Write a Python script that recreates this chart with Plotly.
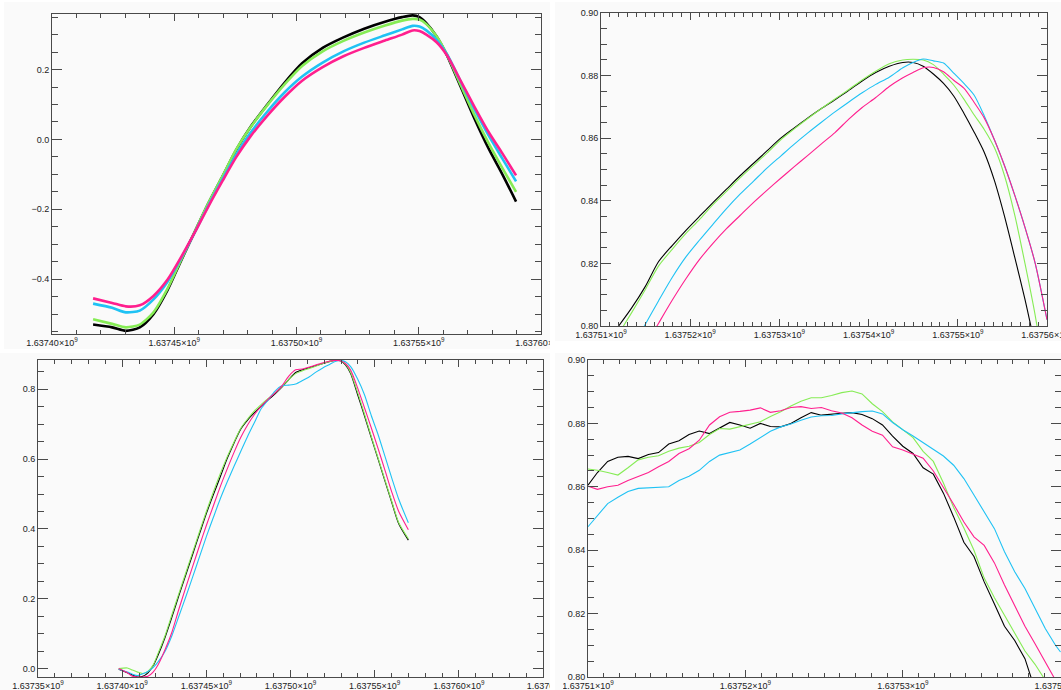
import plotly.graph_objects as go

# ---------------------------------------------------------------- data
# Panel 1: full run (time in s)
P1_T = [1637416800, 1637424600, 1637430200, 1637435900, 1637441500, 1637447200,
        1637452800, 1637458500, 1637464100, 1637469800, 1637475400, 1637481100,
        1637488100, 1637495200, 1637502300, 1637510700, 1637519200, 1637527700,
        1637536200, 1637543200, 1637547500, 1637550300, 1637553100, 1637557300,
        1637561600, 1637567200, 1637572900, 1637578500, 1637584200, 1637589800]
P1_BLACK = [-0.530, -0.538, -0.548, -0.538, -0.500, -0.432, -0.347, -0.263, -0.181, -0.105,
            -0.029, 0.035, 0.100, 0.163, 0.218, 0.262, 0.292, 0.317, 0.337, 0.350,
            0.355, 0.350, 0.333, 0.295, 0.240, 0.150, 0.058, -0.025, -0.100, -0.178]
P1_GREEN = [-0.515, -0.528, -0.538, -0.530, -0.495, -0.428, -0.345, -0.262, -0.180, -0.104,
            -0.028, 0.034, 0.098, 0.158, 0.210, 0.252, 0.282, 0.306, 0.326, 0.340,
            0.345, 0.343, 0.330, 0.295, 0.242, 0.155, 0.068, -0.010, -0.082, -0.150]
P1_CYAN = [-0.470, -0.482, -0.495, -0.490, -0.458, -0.408, -0.340, -0.265, -0.187, -0.113,
           -0.043, 0.018, 0.080, 0.135, 0.180, 0.220, 0.252, 0.277, 0.298, 0.315,
           0.325, 0.323, 0.312, 0.285, 0.243, 0.165, 0.085, 0.012, -0.055, -0.120]
P1_MAGENTA = [-0.455, -0.468, -0.478, -0.475, -0.448, -0.402, -0.337, -0.265, -0.190, -0.118,
              -0.050, 0.008, 0.068, 0.122, 0.168, 0.207, 0.238, 0.262, 0.283, 0.300,
              0.312, 0.310, 0.300, 0.278, 0.240, 0.167, 0.092, 0.022, -0.040, -0.103]

# Panel 2: peak region
P2_T = [1637511980, 1637513420, 1637514940, 1637516460, 1637517980, 1637519500,
        1637521030, 1637522550, 1637524070, 1637525590, 1637527110, 1637528630,
        1637530150, 1637531670, 1637533190, 1637534710, 1637536230, 1637537750,
        1637539280, 1637540800, 1637542320, 1637543840, 1637544980, 1637546120,
        1637547260, 1637548400, 1637549540, 1637550680, 1637551820, 1637552960,
        1637554100, 1637555240, 1637556380, 1637557530, 1637558670, 1637560000]
P2_BLACK = [0.8000, 0.8057, 0.8125, 0.8206, 0.8257, 0.8305, 0.8350, 0.8394, 0.8437, 0.8480,
            0.8520, 0.8560, 0.8600, 0.8633, 0.8665, 0.8695, 0.8723, 0.8752, 0.8783, 0.8810,
            0.8830, 0.8842, 0.8842, 0.8830, 0.8805, 0.8775, 0.8735, 0.8680, 0.8620, 0.8555,
            0.8465, 0.8350, 0.8220, 0.8085, 0.7940, 0.7800]
P2_GREEN = [0.7975, 0.8042, 0.8115, 0.8192, 0.8245, 0.8295, 0.8340, 0.8388, 0.8430, 0.8473,
            0.8513, 0.8553, 0.8595, 0.8630, 0.8663, 0.8695, 0.8725, 0.8755, 0.8786, 0.8814,
            0.8838, 0.8850, 0.8852, 0.8850, 0.8835, 0.8805, 0.8770, 0.8725, 0.8675, 0.8628,
            0.8570, 0.8480, 0.8355, 0.8200, 0.8035, 0.7800]
P2_CYAN = [0.7860, 0.7925, 0.8004, 0.8081, 0.8155, 0.8220, 0.8274, 0.8325, 0.8375, 0.8421,
           0.8463, 0.8505, 0.8543, 0.8581, 0.8617, 0.8651, 0.8684, 0.8715, 0.8745, 0.8772,
           0.8795, 0.8825, 0.8842, 0.8853, 0.8847, 0.8840, 0.8808, 0.8775, 0.8738, 0.8672,
           0.8595, 0.8512, 0.8418, 0.8315, 0.8201, 0.8020]
P2_MAGENTA = [0.7800, 0.7870, 0.7935, 0.8009, 0.8082, 0.8150, 0.8212, 0.8264, 0.8311, 0.8353,
              0.8395, 0.8434, 0.8472, 0.8509, 0.8545, 0.8582, 0.8618, 0.8660, 0.8698, 0.8730,
              0.8765, 0.8793, 0.8810, 0.8825, 0.8826, 0.8812, 0.8785, 0.8760, 0.8715, 0.8665,
              0.8595, 0.8512, 0.8418, 0.8315, 0.8201, 0.8020]

# Panel 3: normalised run
P3_T = [1637397960, 1637403060, 1637406120, 1637409180, 1637412250, 1637415310,
        1637418370, 1637421430, 1637425510, 1637429590, 1637433680, 1637437760,
        1637441840, 1637445920, 1637450000, 1637454090, 1637458170, 1637462250,
        1637466330, 1637470410, 1637474500, 1637478580, 1637482660, 1637486740,
        1637490820, 1637494910, 1637498990, 1637503070, 1637507150, 1637511230,
        1637515320, 1637519400, 1637523480, 1637526540, 1637529600, 1637532670,
        1637535730, 1637539810, 1637543890, 1637547970, 1637552050, 1637556130,
        1637560220, 1637564300, 1637570010]
P3_BLACK = [-0.002, -0.012, -0.018, -0.024, -0.022, -0.012, 0.008, 0.040, 0.090, 0.148,
            0.209, 0.268, 0.327, 0.386, 0.444, 0.497, 0.548, 0.600, 0.645, 0.686,
            0.712, 0.733, 0.752, 0.770, 0.787, 0.806, 0.828, 0.848, 0.856, 0.862,
            0.868, 0.874, 0.880, 0.883, 0.882, 0.870, 0.845, 0.786, 0.725, 0.662,
            0.600, 0.537, 0.475, 0.415, 0.368]
P3_GREEN = [0.000, 0.002, -0.004, -0.010, -0.014, -0.008, 0.010, 0.045, 0.095, 0.155,
            0.215, 0.274, 0.333, 0.392, 0.450, 0.505, 0.557, 0.605, 0.648, 0.688,
            0.715, 0.738, 0.757, 0.774, 0.790, 0.808, 0.828, 0.845, 0.853, 0.860,
            0.867, 0.874, 0.880, 0.883, 0.882, 0.872, 0.848, 0.792, 0.730, 0.665,
            0.603, 0.540, 0.478, 0.418, 0.372]
P3_CYAN = [-0.002, -0.010, -0.016, -0.020, -0.015, -0.008, 0.003, 0.020, 0.050, 0.095,
           0.150, 0.205, 0.262, 0.320, 0.378, 0.432, 0.485, 0.533, 0.578, 0.622,
           0.665, 0.705, 0.745, 0.770, 0.795, 0.810, 0.812, 0.815, 0.825, 0.836,
           0.850, 0.862, 0.872, 0.880, 0.883, 0.879, 0.865, 0.830, 0.785, 0.725,
           0.670, 0.608, 0.545, 0.485, 0.418]
P3_MAGENTA = [0.000, -0.012, -0.022, -0.024, -0.024, -0.022, -0.010, 0.012, 0.055, 0.105,
              0.170, 0.232, 0.292, 0.352, 0.410, 0.465, 0.520, 0.570, 0.618, 0.662,
              0.698, 0.728, 0.752, 0.772, 0.790, 0.810, 0.838, 0.856, 0.858, 0.864,
              0.870, 0.876, 0.881, 0.883, 0.882, 0.874, 0.855, 0.805, 0.748, 0.690,
              0.630, 0.568, 0.505, 0.450, 0.398]

# Panel 4: detail of the normalised peak
P4_T = [1637510000, 1637510600, 1637511250, 1637511900, 1637512540, 1637513190,
        1637513840, 1637514480, 1637515130, 1637515780, 1637516420, 1637517070,
        1637517720, 1637518360, 1637519010, 1637519650, 1637520300, 1637520950,
        1637521590, 1637522240, 1637522890, 1637523530, 1637524180, 1637524830,
        1637525470, 1637526120, 1637526770, 1637527410, 1637528060, 1637528710,
        1637529350, 1637530000, 1637530650, 1637531290, 1637531940, 1637532580,
        1637533230, 1637533880, 1637534520, 1637535170, 1637535820, 1637536460,
        1637537110, 1637537760, 1637538400, 1637539050, 1637539700, 1637540020]
P4_BLACK = [0.8605, 0.8645, 0.8680, 0.8693, 0.8696, 0.8689, 0.8702, 0.8708, 0.8735, 0.8745,
            0.8765, 0.8776, 0.8768, 0.8785, 0.8803, 0.8795, 0.8785, 0.8800, 0.8790, 0.8789,
            0.8800, 0.8818, 0.8834, 0.8826, 0.8830, 0.8832, 0.8834, 0.8828, 0.8815, 0.8795,
            0.8760, 0.8728, 0.8705, 0.8660, 0.8640, 0.8580, 0.8505, 0.8425, 0.8380, 0.8300,
            0.8230, 0.8160, 0.8115, 0.8058, 0.7960]
P4_GREEN = [0.8656, 0.8652, 0.8645, 0.8637, 0.8660, 0.8685, 0.8693, 0.8698, 0.8712, 0.8722,
            0.8728, 0.8740, 0.8765, 0.8784, 0.8782, 0.8790, 0.8797, 0.8805, 0.8822, 0.8837,
            0.8855, 0.8870, 0.8881, 0.8881, 0.8888, 0.8897, 0.8902, 0.8893, 0.8862, 0.8837,
            0.8805, 0.8780, 0.8755, 0.8712, 0.8680, 0.8612, 0.8535, 0.8470, 0.8400, 0.8312,
            0.8250, 0.8195, 0.8140, 0.8082, 0.8040, 0.7990]
P4_CYAN = [0.8474, 0.8510, 0.8547, 0.8567, 0.8585, 0.8595, 0.8597, 0.8597, 0.8600, 0.8620,
           0.8633, 0.8652, 0.8680, 0.8700, 0.8708, 0.8716, 0.8735, 0.8755, 0.8775, 0.8789,
           0.8798, 0.8810, 0.8820, 0.8824, 0.8825, 0.8830, 0.8834, 0.8837, 0.8839, 0.8830,
           0.8803, 0.8780, 0.8760, 0.8740, 0.8718, 0.8697, 0.8668, 0.8626, 0.8574, 0.8521,
           0.8468, 0.8395, 0.8332, 0.8279, 0.8216, 0.8153, 0.8100, 0.8079]
P4_MAGENTA = [0.8602, 0.8592, 0.8600, 0.8605, 0.8620, 0.8632, 0.8645, 0.8663, 0.8680, 0.8705,
              0.8720, 0.8747, 0.8795, 0.8821, 0.8835, 0.8838, 0.8842, 0.8849, 0.8835, 0.8840,
              0.8850, 0.8853, 0.8847, 0.8850, 0.8840, 0.8833, 0.8818, 0.8795, 0.8775, 0.8763,
              0.8726, 0.8716, 0.8704, 0.8690, 0.8650, 0.8600, 0.8545, 0.8489, 0.8442, 0.8415,
              0.8360, 0.8290, 0.8225, 0.8160, 0.8105, 0.8050, 0.7990]

# tick labels (mantissas of the ×10^9 time labels)
SUP9 = "\u00d710<sup>9</sup>"
P1_XTICKS = [1637400000, 1637450000, 1637500000, 1637550000, 1637600000]
P1_XTEXT = ["1.63740" + SUP9, "1.63745" + SUP9, "1.63750" + SUP9, "1.63755" + SUP9,
            "1.63760" + SUP9]
P1_YTICKS = [-0.4, -0.2, 0.0, 0.2]
P1_YTEXT = ["\u22120.4", "\u22120.2", "0.0", "0.2"]

P2_XTICKS = [1637510000, 1637520000, 1637530000, 1637540000, 1637550000, 1637560000]
P2_XTEXT = ["1.63751" + SUP9, "1.63752" + SUP9, "1.63753" + SUP9, "1.63754" + SUP9,
            "1.63755" + SUP9, "1.63756" + SUP9]
P2_YTICKS = [0.80, 0.82, 0.84, 0.86, 0.88, 0.90]
P2_YTEXT = ["0.80", "0.82", "0.84", "0.86", "0.88", "0.90"]

P3_XTICKS = [1637350000, 1637400000, 1637450000, 1637500000, 1637550000, 1637600000, 1637650000]
P3_XTEXT = ["1.63735" + SUP9, "1.63740" + SUP9, "1.63745" + SUP9, "1.63750" + SUP9,
            "1.63755" + SUP9, "1.63760" + SUP9, "1.63765"]
P3_YTICKS = [0.0, 0.2, 0.4, 0.6, 0.8]
P3_YTEXT = ["0.0", "0.2", "0.4", "0.6", "0.8"]

P4_XTICKS = [1637510000, 1637520000, 1637530000, 1637540000]
P4_XTEXT = ["1.63751" + SUP9, "1.63752" + SUP9, "1.63753" + SUP9, "1.63754" + SUP9]
P4_YTICKS = P2_YTICKS
P4_YTEXT = P2_YTEXT

# ---------------------------------------------------------------- styling
W, H = 1061, 690
BLACK, GREEN, CYAN, MAGENTA = "#000000", "#86ec55", "#1fc2f4", "#ff1f8e"
AXIS = "#4a4a4a"
PANEL_BG = "#fafafa"
FONT = dict(family="Liberation Sans, Arial, sans-serif", size=9, color="#222222")


def fx(p):
    return p / W


def fy(p):
    return 1 - p / H


panels = [
    dict(box=(52, 541, 14, 334), xr=[1637400000, 1637600000], yr=[-0.557, 0.359],
         xt=P1_XTICKS, xl=P1_XTEXT, yt=P1_YTICKS, yl=P1_YTEXT, xminor=10000, yminor=0.05,
         t=P1_T, ys=[P1_BLACK, P1_GREEN, P1_CYAN, P1_MAGENTA], lw=2.6, shape="spline"),
    dict(box=(601, 1047, 13, 326), xr=[1637510000, 1637560000], yr=[0.80, 0.90],
         xt=P2_XTICKS, xl=P2_XTEXT, yt=P2_YTICKS, yl=P2_YTEXT, xminor=1000, yminor=0.005,
         t=P2_T, ys=[P2_BLACK, P2_GREEN, P2_CYAN, P2_MAGENTA], lw=1.1, shape="spline"),
    dict(box=(38, 543, 360, 677), xr=[1637350000, 1637650000], yr=[-0.024, 0.884],
         xt=P3_XTICKS, xl=P3_XTEXT, yt=P3_YTICKS, yl=P3_YTEXT, xminor=10000, yminor=0.05,
         t=P3_T, ys=[P3_BLACK, P3_GREEN, P3_CYAN, P3_MAGENTA], lw=1.1, shape="spline"),
    dict(box=(588, 1061, 360, 677), xr=[1637510000, 1637540050], yr=[0.80, 0.90],
         xt=P4_XTICKS, xl=P4_XTEXT, yt=P4_YTICKS, yl=P4_YTEXT, xminor=1000, yminor=0.005,
         t=P4_T, ys=[P4_BLACK, P4_GREEN, P4_CYAN, P4_MAGENTA], lw=1.1, shape="linear"),
]

fig = go.Figure()
layout = {}
colors = [BLACK, GREEN, CYAN, MAGENTA]

for i, p in enumerate(panels, start=1):
    sfx = "" if i == 1 else str(i)
    x0, x1, y0, y1 = p["box"]
    for y, c in zip(p["ys"], colors):
        line = dict(color=c, width=p["lw"], shape=p["shape"])
        if p["shape"] == "spline":
            line["smoothing"] = 0.7
        fig.add_trace(go.Scatter(
            x=p["t"][:len(y)], y=y, mode="lines", line=line,
            xaxis="x" + sfx, yaxis="y" + sfx, showlegend=False, hoverinfo="skip"))
    common = dict(showline=True, linecolor=AXIS, linewidth=1, mirror="allticks",
                  ticks="inside", tickcolor=AXIS, tickwidth=1, showgrid=False,
                  zeroline=False, tickfont=FONT, tickmode="array", automargin=False,
                  ticklabeloverflow="allow")
    layout["xaxis" + sfx] = dict(
        common, domain=[fx(x0), min(fx(x1), 1.0)], range=p["xr"], anchor="y" + sfx,
        tickvals=p["xt"], ticktext=p["xl"], ticklen=7,
        minor=dict(ticks="inside", ticklen=4, tickcolor=AXIS, dtick=p["xminor"],
                   tick0=p["xt"][0], showgrid=False))
    layout["yaxis" + sfx] = dict(
        common, domain=[fy(y1), fy(y0)], range=p["yr"], anchor="x" + sfx,
        tickvals=p["yt"], ticktext=p["yl"], ticklen=10,
        minor=dict(ticks="inside", ticklen=6, tickcolor=AXIS, dtick=p["yminor"],
                   tick0=0, showgrid=False))


def rect(xa, xb, ya, yb, color, layer):
    return dict(type="rect", xref="paper", yref="paper", x0=fx(xa), x1=fx(xb),
                y0=fy(yb), y1=fy(ya), fillcolor=color, line=dict(width=0), layer=layer)


shapes = [
    rect(4, 550, 2, 349, PANEL_BG, "below"),
    rect(555, 1061, 2, 341, PANEL_BG, "below"),
    rect(0, 550, 353, 690, PANEL_BG, "below"),
    rect(555, 1061, 353, 690, PANEL_BG, "below"),
    # tick labels running past a panel edge are cut there
    rect(550, 555, 0, 690, "#ffffff", "above"),
    rect(555, 576, 337, 341, PANEL_BG, "above"),
    rect(555, 576, 341, 353, "#ffffff", "above"),
    rect(555, 563, 679, 690, PANEL_BG, "above"),
]

fig.update_layout(
    template="none",
    width=W, height=H, margin=dict(l=0, r=0, t=0, b=0, pad=0),
    paper_bgcolor="#ffffff", plot_bgcolor=PANEL_BG,
    shapes=shapes, **layout)

fig.write_html("out.html")
